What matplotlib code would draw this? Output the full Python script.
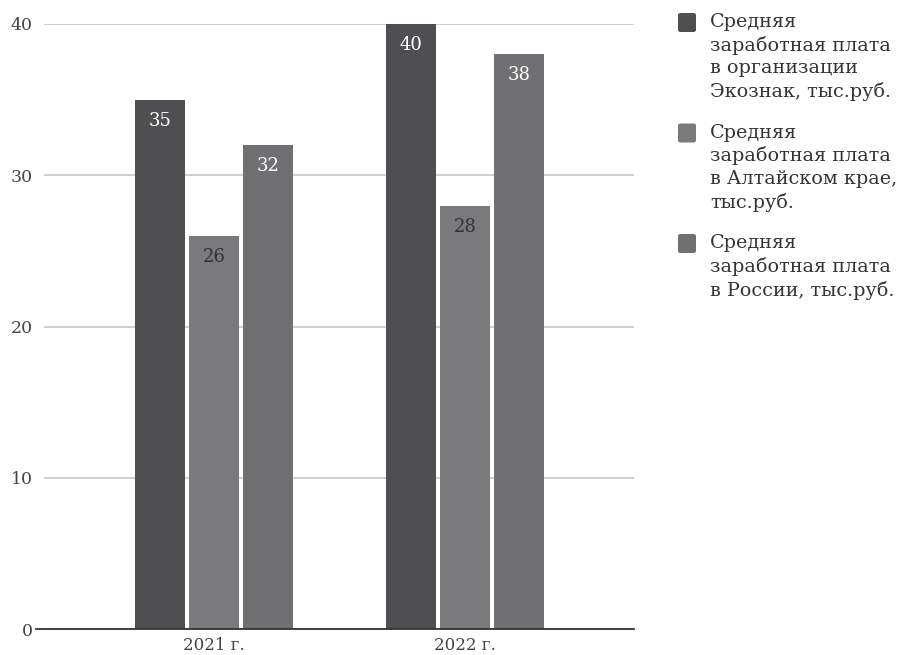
import matplotlib
matplotlib.use("Agg")
import matplotlib.pyplot as plt
import numpy as np
from matplotlib.patches import FancyBboxPatch
from matplotlib.lines import Line2D

plt.rcParams["font.family"] = ["DejaVu Serif"]

years = ["2021 г.", "2022 г."]
series_names = [
    "Средняя\nзаработная плата\nв организации\nЭкознак, тыс.руб.",
    "Средняя\nзаработная плата\nв Алтайском крае,\nтыс.руб.",
    "Средняя\nзаработная плата\nв России, тыс.руб.",
]
ecoznak = [35, 40]
altai = [26, 28]
russia = [32, 38]
yticks = [0, 10, 20, 30, 40]

colors = ["#4f4f51", "#7a7a7d", "#707073"]
label_colors = ["white", "#333333", "white"]

fig = plt.figure(figsize=(9.07, 6.55), dpi=100)
ax = fig.add_axes([44 / 907, 26 / 655, 590 / 907, 605 / 655])

x = np.arange(len(years))
width = 0.2
step = 0.215
for i, (vals, c, lc) in enumerate(zip([ecoznak, altai, russia], colors, label_colors)):
    bars = ax.bar(x + (i - 1) * step, vals, width, color=c, zorder=3)
    for b, v in zip(bars, vals):
        ax.annotate(str(v), (b.get_x() + b.get_width() / 2, v),
                    xytext=(0, -21), textcoords="offset pixels",
                    ha="center", va="center", color=lc, fontsize=13, zorder=4)

ax.set_xlim(-0.677, 1.673)
ax.set_ylim(0, 40)
ax.set_yticks(yticks)
ax.set_xticks(x)
ax.set_xticklabels(years)
ax.grid(axis="y", color="#cccccc", linewidth=1.3, zorder=0)
for s in ax.spines.values():
    s.set_visible(False)
ax.tick_params(axis="both", length=0, labelcolor="#444444", labelsize=12)
ax.tick_params(axis="y", pad=8, labelsize=12.5)
ax.tick_params(axis="x", pad=6)

# baseline at zero, a bit longer than the gridlines on the left
ax.add_line(Line2D([-8 / 590, 1], [0, 0], transform=ax.transAxes,
                   color="#333333", linewidth=1.3, clip_on=False, zorder=5))

# legend drawn by hand so the square sits on the first line
top = 13
for i, (name, c) in enumerate(zip(series_names, colors)):
    y = top + i * 110.5
    fig.patches.append(FancyBboxPatch(
        (678 / 907, 1 - (y + 19) / 655), 18 / 907, 19 / 655,
        boxstyle="round,pad=0,rounding_size=0.003", transform=fig.transFigure,
        facecolor=c, edgecolor="none"))
    fig.text(710 / 907, 1 - (y + 0) / 655, name, ha="left", va="top",
             fontsize=13.8, color="#333333", linespacing=1.32)

fig.savefig("out.png", dpi=100)
